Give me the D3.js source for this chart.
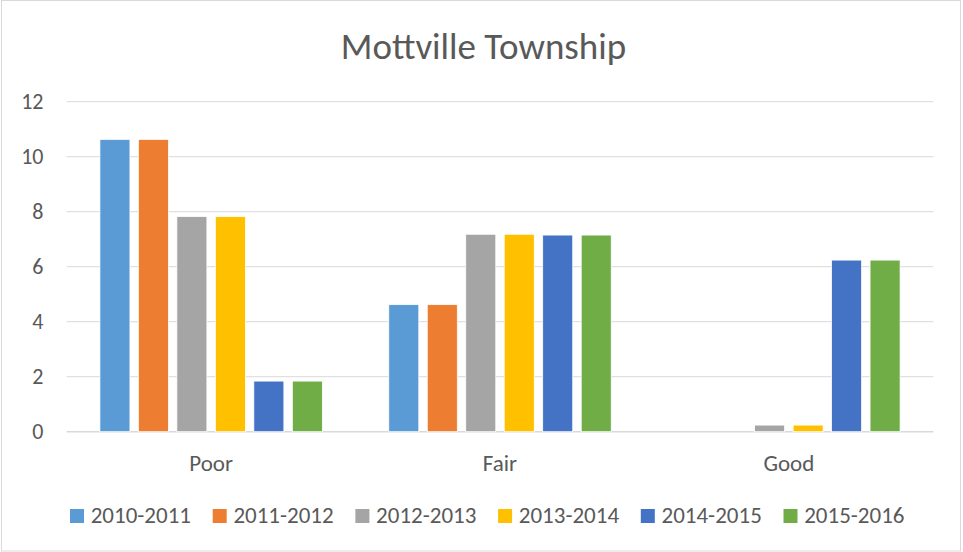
<!DOCTYPE html>
<html>
<head>
<meta charset="utf-8">
<script src="https://cdn.jsdelivr.net/npm/d3@7"></script>
<style>
  body { margin: 0; background: #fff; }
  text { font-family: Calibri, Carlito, "Open Sans", sans-serif; fill: #595959; }
</style>
</head>
<body>
<div id="vis"></div>
<script>
// chart data
var categories = ['Poor', 'Fair', 'Good'];
var seriesNames = ['2010-2011', '2011-2012', '2012-2013', '2013-2014', '2014-2015', '2015-2016'];
var seriesValues = [
  [10.63, 4.62, 0],
  [10.63, 4.62, 0],
  [7.82, 7.18, 0.24],
  [7.82, 7.18, 0.24],
  [1.84, 7.15, 6.24],
  [1.84, 7.15, 6.24]
];
var yTicks = [0, 2, 4, 6, 8, 10, 12];
var colors = ['#5B9BD5', '#ED7D31', '#A5A5A5', '#FFC000', '#4472C4', '#70AD47'];

var width = 963, height = 552;
var margin = { top: 101.7, right: 29.7, bottom: 120.3, left: 66.7 };

var svg = d3.select('#vis').append('svg')
  .attr('width', width)
  .attr('height', height);

// outer chart border
svg.append('rect')
  .attr('x', 1.5).attr('y', 0.5)
  .attr('width', width - 4).attr('height', height - 1.5)
  .attr('fill', 'none')
  .attr('stroke', '#d9d9d9');

var x0 = d3.scaleBand()
  .domain(categories)
  .range([margin.left, width - margin.right])
  .paddingInner(0.23)
  .paddingOuter(0.115);

var x1 = d3.scaleBand()
  .domain(seriesNames)
  .range([0, x0.bandwidth()])
  .paddingInner(0.22)
  .paddingOuter(0);

var y = d3.scaleLinear()
  .domain([0, 12])
  .range([height - margin.bottom, margin.top]);

// gridlines
svg.append('g')
  .selectAll('line')
  .data(yTicks)
  .enter().append('line')
  .attr('x1', margin.left)
  .attr('x2', width - margin.right)
  .attr('y1', function (d) { return y(d); })
  .attr('y2', function (d) { return y(d); })
  .attr('stroke', '#d9d9d9')
  .attr('stroke-width', function (d) { return d === 0 ? 1.5 : 1; });

// y tick labels
svg.append('g')
  .selectAll('text')
  .data(yTicks)
  .enter().append('text')
  .attr('x', 43.5)
  .attr('y', function (d) { return y(d); })
  .attr('dy', '0.33em')
  .attr('text-anchor', 'end')
  .style('font-size', '22px')
  .text(function (d) { return d; });

// bars
var groups = svg.append('g')
  .selectAll('g')
  .data(seriesNames)
  .enter().append('g')
  .attr('fill', function (d, i) { return colors[i]; });

groups.selectAll('rect')
  .data(function (d, i) {
    return categories.map(function (c, j) {
      return { series: d, cat: c, value: seriesValues[i][j] };
    });
  })
  .enter().append('rect')
  .attr('x', function (d) { return x0(d.cat) + x1(d.series); })
  .attr('width', x1.bandwidth())
  .attr('y', function (d) { return y(d.value); })
  .attr('height', function (d) { return y(0) - y(d.value); })
  .attr('stroke', '#fff')
  .attr('stroke-width', 0.75);

// category labels
svg.append('g')
  .selectAll('text')
  .data(categories)
  .enter().append('text')
  .attr('x', function (d) { return x0(d) + x0.bandwidth() / 2; })
  .attr('y', 471)
  .attr('text-anchor', 'middle')
  .style('font-size', '23px')
  .text(function (d) { return d; });

// title
svg.append('text')
  .attr('x', 483.5)
  .attr('y', 59)
  .attr('text-anchor', 'middle')
  .style('font-size', '37px')
  .text('Mottville Township');

// legend
var legendStep = 142.7;
var legend = svg.append('g')
  .selectAll('g')
  .data(seriesNames)
  .enter().append('g')
  .attr('transform', function (d, i) { return 'translate(' + (70 + i * legendStep) + ',523)'; });

legend.append('rect')
  .attr('x', 0).attr('y', -14)
  .attr('width', 14).attr('height', 14)
  .attr('fill', function (d, i) { return colors[i]; });

legend.append('text')
  .attr('x', 20.7)
  .style('font-size', '23px')
  .text(function (d) { return d; });
</script>
</body>
</html>
